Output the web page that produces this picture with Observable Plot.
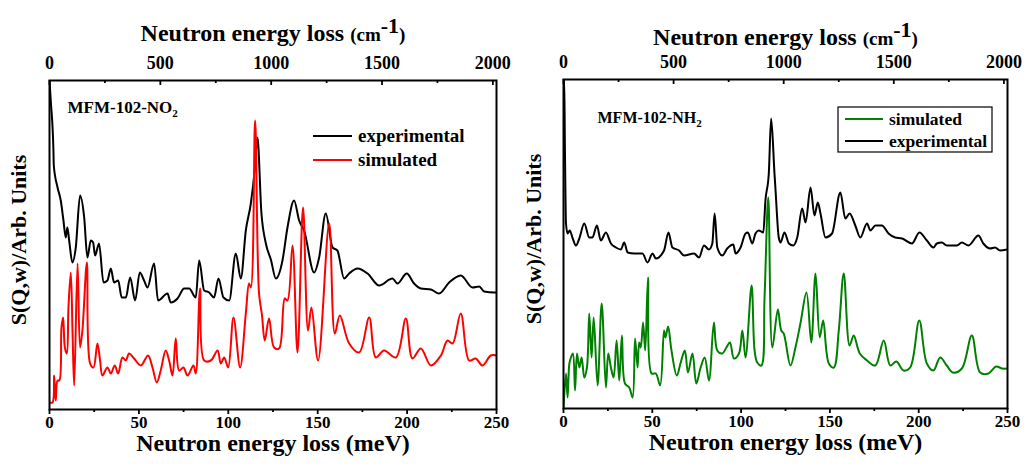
<!DOCTYPE html>
<html><head><meta charset="utf-8">
<script src="https://cdn.jsdelivr.net/npm/d3@7"></script>
<script src="https://cdn.jsdelivr.net/npm/@observablehq/plot@0.6"></script>
<style>
body{margin:0;background:#fff;}
#wrap{display:flex;width:1024px;height:464px;overflow:hidden;}
#wrap svg{flex:none;}
</style></head><body><div id="wrap"></div>
<script>
// ---------- axis ticks ----------
const MEV_TO_CM = 8.0655;
const bottomTicks = [0, 50, 100, 150, 200, 250];
const bottomMinor = [25, 75, 125, 175, 225];
const topTicksCm = [0, 500, 1000, 1500, 2000];
const topMinorCm = [250, 750, 1250, 1750];

// ---------- MFM-102-NO2 (left) ----------
const no2ExpE = [0,0.7,2.2,2.4,4.5,6.3,7.8,9.1,10,11,12.8,14.7,17.1,19.4,21.2,23.1,24.4,25.5,27.7,30.2,32.4,34.3,36.1,38.4,40.4,42.7,45.1,47.9,50.5,52.9,54.8,58.5,60.7,66,67.8,71.6,75.3,78.1,81.8,83.7,86.5,89.3,92,94.5,97.3,100.5,104.2,107,109.8,112.6,114.8,116.3,118.5,121,123.8,126.6,130.3,133.1,136.8,139.6,142.4,148,150.8,154.5,158.3,161,164.8,167.6,172.3,177.9,184.4,191.8,194.6,199.8,203.9,207.7,213.3,217.9,223.5,230,236.6,240.3,243.1,248.7,250];
const no2ExpI = [329,309,259,244,222,209,189,172,182,169,147,162,214,192,152,169,167,154,166,127,129,141,127,129,112,112,132,109,137,129,122,146,109,116,107,111,121,121,112,149,119,117,112,131,112,109,156,131,179,206,240,272,197,166,150,131,149,182,209,189,179,137,152,196,162,159,131,136,141,136,124,131,126,136,126,121,120,116,127,134,122,123,118,117,117];
const no2SimE = [0,1.7,2.6,3.5,4.5,5.5,6.7,7.6,8.6,9.7,10.6,11.9,12.9,13.8,15.7,17.1,18.4,20.9,22.7,24.6,26.8,28.3,29.6,32.4,34.3,36.5,38.4,40.8,42.7,44.5,47.3,51.1,55.1,57.6,60,62.2,65,66.9,68.8,70.6,72.5,74.9,77.2,80.5,81.8,84.2,86.5,90.2,94,95.8,97.7,99.9,102.9,106.6,109.8,111.6,112.6,115,117.2,118.8,120.4,122.8,125.6,128.4,131.6,133.1,135.9,138.7,141.8,144.6,146.5,150.2,156.4,159.6,162.4,167.6,173.2,178.8,182.5,187.1,193.7,199.3,203,207.7,213.3,218.9,222.6,225.4,230,234.7,238.4,242.2,246.8,250];
const no2SimI = [7,7,34,9,29,29,82,92,62,56,102,137,76,24,146,62,79,147,46,42,66,49,34,42,36,44,36,52,49,56,51,44,54,42,27,39,59,49,34,71,39,42,34,44,36,121,49,49,59,46,52,42,92,42,96,126,122,289,116,95,69,91,62,61,111,109,164,57,202,79,102,49,186,76,94,66,57,92,52,59,52,91,51,61,44,54,69,66,96,49,51,44,54,54];

// ---------- MFM-102-NH2 (right) ----------
const nh2ExpE = [0,0.4,0.8,1.4,2.3,3.5,5.2,7,8.9,11.7,14.5,16.3,18.8,21,23.9,26.7,29.5,32.3,34.2,36.1,39.8,44.5,47.3,50.1,52,56.6,59.1,61.3,65.1,67.9,73.5,76.3,79.1,81.9,83.8,85.1,86.6,89.4,92.2,95.6,96.9,99.7,102.5,103.8,106.3,108.1,110,112.5,113.7,115.6,116.9,118.8,119.4,121.2,122.2,124.4,126.9,129.3,131.6,134.4,136.3,139.1,141.3,143.2,144.7,147.5,151.2,155.9,158.7,161.1,164.3,167.1,170.9,172.8,175.6,179.3,183,186.8,190.6,196.2,200.4,204.6,208.3,210.2,213,215.8,221.5,224.3,228,233.6,236.4,240.2,243,245.8,250];
const nh2ExpI = [329,329,261,185,175,178,170,163,170,185,171,171,183,168,176,165,161,159,166,156,155,155,146,155,150,158,176,161,158,153,155,151,163,159,165,195,161,153,160,164,155,161,175,176,165,175,178,176,208,235,290,235,218,171,166,176,165,163,171,200,186,221,193,206,195,171,175,216,190,195,183,171,185,178,183,183,175,171,170,165,176,168,161,165,166,163,163,166,163,173,165,160,161,158,159];
const nh2SimE = [0,1.4,2.3,3.3,4.2,5.3,6.5,7.6,8.9,10.2,11.7,13.2,14.5,15.8,17,19.2,21.5,23.9,25.2,26.7,28.2,29.9,31.4,32.9,34.6,37,38.9,40.3,41.7,42.6,43.5,44.8,46,47.6,49.6,52,54.4,56.6,57.4,58.9,60.8,63.8,66,68.3,70.1,72.6,74.8,77.2,79.5,81.9,84.7,86.6,89.4,91.7,93.7,96,98.8,100.7,102.5,105.9,107.6,109.1,111.4,113.2,115.3,117.6,120.7,122.6,124,127.8,130.6,133.4,136.8,139.5,141.9,144.3,146.2,149.4,152.2,155,157.8,161.1,163.4,166.8,170.9,175.6,180.3,184,187.4,191.5,195.2,200.3,204.6,208.3,212.1,215.8,219.2,224.3,229.9,234.6,239.2,243.6,246.9,250];
const nh2SimI = [0,35,11,45,51,55,18,55,41,51,31,41,95,51,91,23,105,21,55,41,31,68,28,73,25,21,11,70,41,66,61,86,58,131,35,35,23,78,71,82,58,33,46,58,36,55,25,41,51,28,86,58,55,61,66,50,55,78,51,123,58,46,43,111,211,61,99,78,75,43,61,85,116,66,135,71,88,45,41,78,135,63,73,55,48,43,68,43,47,38,41,88,45,38,51,43,36,40,73,36,35,42,40,40];

const FONT = "'Liberation Serif','Times New Roman',serif";
const YMAX = 329;

function zipData(E, I) { return E.map((e, k) => ({ e, i: I[k] })); }

function makePanel(cfg) {
  const plotH = 464 - cfg.mt - cfg.mb;
  const marks = [];
  for (const s of cfg.series) {
    marks.push(Plot.line(zipData(s.E, s.I), {
      x: "e", y: "i", stroke: s.color, strokeWidth: 2,
      curve: s.curve, clip: true
    }));
  }
  marks.push(
    Plot.frame({ stroke: "black", strokeWidth: 2 }),
    Plot.axisX({ anchor: "bottom", ticks: bottomTicks, tickSize: 5, tickPadding: 1, strokeWidth: 1.8, label: null, fontSize: 17 }),
    Plot.axisX({ anchor: "bottom", ticks: bottomMinor, tickSize: 3, strokeWidth: 1.8, tickFormat: () => "", label: null }),
    Plot.axisX({ anchor: "top", ticks: topTicksCm.map(c => c / MEV_TO_CM), tickFormat: d => String(Math.round(d * MEV_TO_CM)), tickSize: 0, tickPadding: 12, label: null, fontSize: 18 }),
    Plot.ruleX(topTicksCm.map(c => c / MEV_TO_CM), { stroke: "black", strokeWidth: 1.8, insetBottom: plotH - 5 }),
    Plot.ruleX(topMinorCm.map(c => c / MEV_TO_CM), { stroke: "black", strokeWidth: 1.8, insetBottom: plotH - 3 }),
    Plot.text(["Neutron energy loss (meV)"], { frameAnchor: "bottom", dy: 34, lineAnchor: "middle", textAnchor: "middle", fontSize: 24, fontWeight: "bold", fontFamily: FONT }),
    Plot.text(["TOPTITLE"], { frameAnchor: "top", dy: cfg.topTitleDy, lineAnchor: "middle", textAnchor: "middle", fontSize: 24, fontWeight: "bold", fontFamily: FONT }),
    Plot.text(["S(Q,w)/Arb. Units"], { frameAnchor: "left", dx: cfg.ylabDx, dy: -5, rotate: -90, lineAnchor: "middle", textAnchor: "middle", fontSize: 22, fontWeight: "bold", fontFamily: FONT }),
    Plot.text([cfg.sample], { frameAnchor: "top-left", dx: cfg.sampleDx, dy: cfg.sampleDy, lineAnchor: "middle", textAnchor: "start", fontSize: cfg.sampleSize, fontWeight: "bold", fontFamily: FONT })
  );
  const svg = Plot.plot({
    width: 512, height: 464,
    marginLeft: cfg.ml, marginRight: cfg.mr, marginTop: cfg.mt, marginBottom: cfg.mb,
    x: { domain: [0, 250] },
    y: { domain: [0, YMAX], axis: null },
    style: { fontFamily: FONT, fontWeight: "bold", fontSize: "17px", color: "black", background: "white", overflow: "visible" },
    marks
  });
  const sel = d3.select(svg);
  // rich text: superscript / subscript
  sel.selectAll("text").each(function () {
    const t = d3.select(this);
    const txt = this.textContent;
    if (txt === "TOPTITLE") {
      t.text(null);
      t.append("tspan").text("Neutron energy loss ");
      t.append("tspan").style("font-size", "19px").text("(cm");
      t.append("tspan").attr("dy", -8).style("font-size", "22px").text("-1");
      t.append("tspan").attr("dy", 8).style("font-size", "19px").text(")");
    } else if (txt === cfg.sample) {
      t.text(null);
      t.append("tspan").text(cfg.sample.slice(0, -1));
      t.append("tspan").attr("dy", 4).style("font-size", "11px").text(cfg.sample.slice(-1));
    }
  });
  // legend
  const lg = sel.append("g").attr("font-family", FONT).attr("font-weight", "bold")
    .attr("text-anchor", "start").style("font-size", cfg.legend.size + "px");
  if (cfg.legend.box) {
    const b = cfg.legend.box;
    lg.append("rect").attr("x", b[0]).attr("y", b[1]).attr("width", b[2]).attr("height", b[3]).attr("fill", "white").attr("stroke", "black").attr("stroke-width", 1.2);
  }
  cfg.legend.items.forEach((it, k) => {
    const y = cfg.legend.y0 + k * cfg.legend.dy;
    lg.append("line").attr("x1", cfg.legend.x0).attr("x2", cfg.legend.x1).attr("y1", y).attr("y2", y).attr("stroke", it.color).attr("stroke-width", 2);
    lg.append("text").attr("x", cfg.legend.tx).attr("y", y).attr("dy", "0.32em").attr("text-anchor", "start").text(it.name);
  });
  return svg;
}

const left = makePanel({
  ml: 49, mr: 16, mt: 80, mb: 55,
  topTitleDy: -47, ylabDx: -31,
  sample: "MFM-102-NO2", sampleDx: 18, sampleDy: 27, sampleSize: 17,
  series: [
    { E: no2ExpE, I: no2ExpI, color: "black", curve: "monotone-x" },
    { E: no2SimE, I: no2SimI, color: "#ff0000", curve: "catmull-rom" }
  ],
  legend: { x0: 313, x1: 352, tx: 358, y0: 136, dy: 24, size: 19,
    items: [{ name: "experimental", color: "black" }, { name: "simulated", color: "#ff0000" }] }
});
const right = makePanel({
  ml: 51, mr: 17, mt: 79, mb: 56,
  topTitleDy: -42, ylabDx: -30,
  sample: "MFM-102-NH2", sampleDx: 34, sampleDy: 38, sampleSize: 16,
  series: [
    { E: nh2ExpE, I: nh2ExpI, color: "black", curve: "monotone-x" },
    { E: nh2SimE, I: nh2SimI, color: "#008000", curve: "catmull-rom" }
  ],
  legend: { x0: 333, x1: 371, tx: 377, y0: 119, dy: 22, size: 17.5, box: [326, 107, 154, 45],
    items: [{ name: "simulated", color: "#008000" }, { name: "experimental", color: "black" }] }
});
document.getElementById("wrap").append(left, right);
</script></body></html>
